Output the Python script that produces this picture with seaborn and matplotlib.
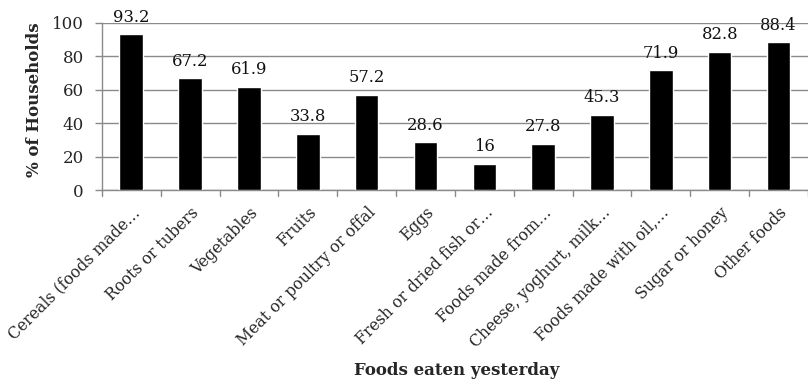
import matplotlib
matplotlib.use("Agg")
import matplotlib.pyplot as plt
import seaborn as sns
import pandas as pd

categories = [
    "Cereals (foods made…",
    "Roots or tubers",
    "Vegetables",
    "Fruits",
    "Meat or poultry or offal",
    "Eggs",
    "Fresh or dried fish or…",
    "Foods made from…",
    "Cheese, yoghurt, milk…",
    "Foods made with oil,…",
    "Sugar or honey",
    "Other foods",
]
values = [93.2, 67.2, 61.9, 33.8, 57.2, 28.6, 16, 27.8, 45.3, 71.9, 82.8, 88.4]
value_labels = ["93.2", "67.2", "61.9", "33.8", "57.2", "28.6", "16", "27.8", "45.3", "71.9", "82.8", "88.4"]
y_ticks = [0, 20, 40, 60, 80, 100]

sns.set_theme(style="white")
plt.rcParams["font.family"] = ["DejaVu Serif"]

df = pd.DataFrame({"food": categories, "pct": values})

fig = plt.figure(figsize=(8.08, 3.83), dpi=100)
ax = fig.add_axes([0.126, 0.503, 0.874, 0.437])
ax.set_axisbelow(True)
ax.yaxis.grid(True, color="#8a8a8a", linewidth=1)

sns.barplot(data=df, x="food", y="pct", color="black", width=0.40,
            saturation=1, ax=ax, order=categories, zorder=3)

for i, (v, t) in enumerate(zip(values, value_labels)):
    ax.text(i, v + 5, t, ha="center", va="bottom", fontsize=11.8, color="#111111",
            zorder=4)

ax.set_ylim(0, 100)
ax.set_xlim(-0.5, len(categories) - 0.5)
ax.set_yticks(y_ticks)
ax.set_yticklabels([str(t) for t in y_ticks], fontsize=12)

ax.set_xticks(range(len(categories)))
ax.set_xticklabels(categories, rotation=45, ha="right", rotation_mode="anchor",
                   fontsize=11.3)
ax.tick_params(axis="x", length=0, pad=10)
ax.tick_params(axis="y", left=True, length=5, width=1, color="#8a8a8a", pad=8)

# category separators on the x axis
for b in range(len(categories) + 1):
    ax.plot([b - 0.5, b - 0.5], [0, -3.5], color="#8a8a8a", lw=1, clip_on=False)

for side in ["top", "right"]:
    ax.spines[side].set_visible(False)
for side in ["left", "bottom"]:
    ax.spines[side].set_color("#8a8a8a")
    ax.spines[side].set_linewidth(1)

ax.set_ylabel("% of Households", fontsize=12, fontweight="bold")
ax.yaxis.set_label_coords(-0.083, 0.54)
ax.set_xlabel("")
fig.text(0.565, 0.01, "Foods eaten yesterday", ha="center", va="bottom",
         fontsize=12, fontweight="bold")

fig.savefig("out.png", dpi=100)
